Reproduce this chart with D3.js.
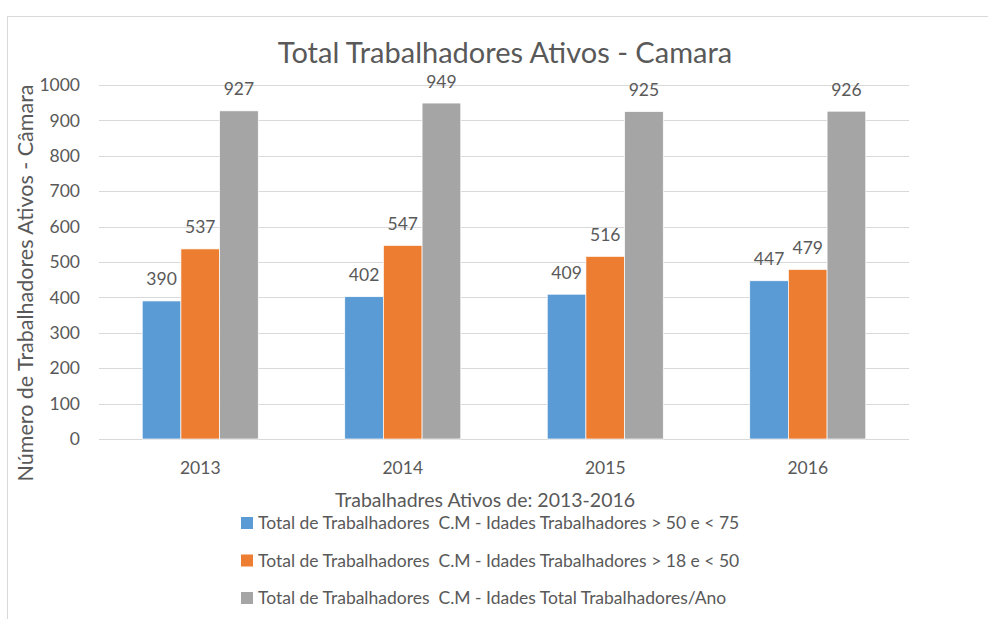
<!DOCTYPE html>
<html>
<head>
<meta charset="utf-8">
<script src="https://cdn.jsdelivr.net/npm/d3@7"></script>
<style>
  body { margin: 0; background: #fff; }
  svg text { font-family: Lato, "Open Sans", sans-serif; fill: #595959; }
</style>
</head>
<body>
<div id="container"></div>
<script>
const width = 988;
const height = 619;
const margin = { top: 85, bottom: 180, left: 99, right: 79 };

const years = ["2013", "2014", "2015", "2016"];
const seriesNames = [
    "Total de Trabalhadores  C.M - Idades Trabalhadores > 50 e < 75",
    "Total de Trabalhadores  C.M - Idades Trabalhadores > 18 e < 50",
    "Total de Trabalhadores  C.M - Idades Total Trabalhadores/Ano"
];
const over50 = [390, 402, 409, 447];
const from18to50 = [537, 547, 516, 479];
const totalPerYear = [927, 949, 925, 926];
const yTicks = [0, 100, 200, 300, 400, 500, 600, 700, 800, 900, 1000];
const colors = ["#5B9BD5", "#ED7D31", "#A5A5A5"];

const series = [over50, from18to50, totalPerYear];

const svg = d3.select("#container")
    .append('svg')
    .attr('width', width)
    .attr('height', height)
    .attr('viewBox', [0, 0, width, height]);

// chart frame
svg.append('rect')
    .attr('x', 7.5).attr('y', 16.5)
    .attr('width', width).attr('height', height)
    .attr('fill', 'none')
    .attr('stroke', '#D9D9D9');

const x = d3.scaleBand()
    .domain(years)
    .range([margin.left, width - margin.right])
    .paddingInner(0.427)
    .paddingOuter(0.2135);

const xInner = d3.scaleBand()
    .domain(d3.range(series.length))
    .range([0, x.bandwidth()]);

const y = d3.scaleLinear()
    .domain([0, 1000])
    .range([439, margin.top]);

// gridlines
svg.append('g')
    .selectAll('line')
    .data(yTicks)
    .join('line')
    .attr('x1', margin.left)
    .attr('x2', width - margin.right)
    .attr('y1', d => Math.round(y(d)) + 0.5)
    .attr('y2', d => Math.round(y(d)) + 0.5)
    .attr('stroke', '#D9D9D9')
    .attr('stroke-width', 1);

// y tick labels
svg.append('g')
    .selectAll('text')
    .data(yTicks)
    .join('text')
    .attr('x', 80)
    .attr('y', d => y(d))
    .attr('dy', '0.35em')
    .attr('text-anchor', 'end')
    .style('font-size', '17.5px')
    .text(d => d);

// x tick labels
svg.append('g')
    .selectAll('text')
    .data(years)
    .join('text')
    .attr('x', d => x(d) + x.bandwidth() / 2)
    .attr('y', y(0) + 35)
    .attr('text-anchor', 'middle')
    .style('font-size', '17.5px')
    .text(d => d);

// bars
series.forEach((values, s) => {
    const g = svg.append('g');
    g.selectAll('rect')
        .data(values)
        .join('rect')
        .attr('x', (d, i) => x(years[i]) + xInner(s))
        .attr('y', d => y(d))
        .attr('width', xInner.bandwidth())
        .attr('height', d => y(0) - y(d))
        .attr('fill', colors[s])
        .attr('stroke', '#fff')
        .attr('stroke-width', 0.7);

    g.selectAll('text')
        .data(values)
        .join('text')
        .attr('x', (d, i) => x(years[i]) + xInner(s) + xInner.bandwidth() / 2)
        .attr('y', d => y(d) - 15.5)
        .attr('text-anchor', 'middle')
        .style('font-size', '17.5px')
        .text(d => d);
});

// title
svg.append('text')
    .attr('x', 505)
    .attr('y', 63)
    .attr('text-anchor', 'middle')
    .style('font-size', '29px')
    .text('Total Trabalhadores Ativos - Camara');

// y axis title
svg.append('text')
    .attr('transform', `translate(33,${283}) rotate(-90)`)
    .attr('text-anchor', 'middle')
    .style('font-size', '21.5px')
    .text('Número de Trabalhadores Ativos - Câmara');

// x axis title
svg.append('text')
    .attr('x', 485)
    .attr('y', 507)
    .attr('text-anchor', 'middle')
    .style('font-size', '19.5px')
    .text('Trabalhadres Ativos de: 2013-2016');

// legend
const legend = svg.append('g')
    .selectAll('g')
    .data(seriesNames)
    .join('g')
    .attr('transform', (d, i) => `translate(241,${523 + i * 37.5})`);

legend.append('rect')
    .attr('x', 0)
    .attr('y', -6)
    .attr('width', 12)
    .attr('height', 12)
    .attr('fill', (d, i) => colors[i]);

legend.append('text')
    .attr('x', 17)
    .attr('y', 0)
    .attr('dy', '0.35em')
    .style('font-size', '17.5px')
    .style('white-space', 'pre')
    .text(d => d);
</script>
</body>
</html>
